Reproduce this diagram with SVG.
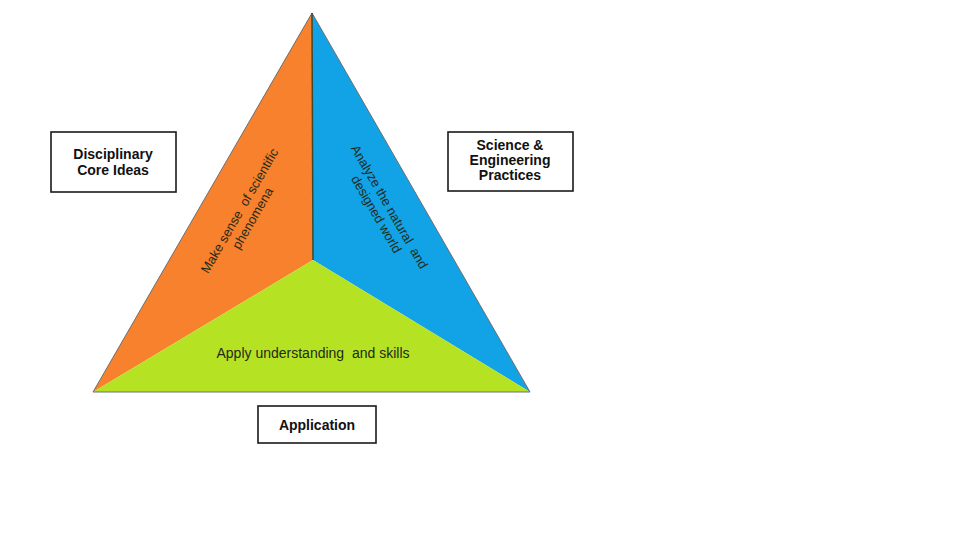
<svg xmlns="http://www.w3.org/2000/svg" width="960" height="540" viewBox="0 0 960 540">
<style>
.box{fill:#fff;stroke:#1a1a1a;stroke-width:1.6}
.lbl{font-family:"Liberation Sans",Arial,sans-serif;font-weight:bold;font-size:14px;fill:#111;text-anchor:middle}
.in{font-family:"Liberation Sans",Arial,sans-serif;font-size:13px;fill:#1f2a1a;text-anchor:middle;white-space:pre}
.edge{fill:none;stroke:#6e6e6e;stroke-width:1}
</style>
<rect width="960" height="540" fill="#fff"/>
<g id="triangle">
<polygon id="orange" points="312,13 93,392 313,260" fill="#F7812C"/>
<polygon id="blue" points="312,13 313,260 530,392" fill="#12A3E6"/>
<polygon id="green" points="93,392 313,260 530,392" fill="#B6E224"/>
<polygon class="edge" points="312,13 93,392 530,392"/>
<line x1="312" y1="13" x2="313" y2="260" stroke="#3c4a30" stroke-width="1.5"/>
</g>
<g id="labels-in">
<text class="in" transform="translate(240,211) rotate(-60)"><tspan x="0" y="4">Make sense  of scientific</tspan><tspan x="0" y="19">phenomena</tspan></text>
<text class="in" transform="translate(389,207) rotate(60)"><tspan x="0" y="4">Analyze the natural  and</tspan><tspan x="0" y="19">designed world</tspan></text>
<text class="in" x="313" y="358" style="font-size:14px">Apply understanding  and skills</text>
</g>
<g id="dci">
<rect class="box" x="51" y="132" width="125" height="60"/>
<text class="lbl" x="113" y="159">Disciplinary</text>
<text class="lbl" x="113" y="175">Core Ideas</text>
</g>
<g id="sep">
<rect class="box" x="448" y="132" width="125" height="59"/>
<text class="lbl" x="510" y="150">Science &amp;</text>
<text class="lbl" x="510" y="165">Engineering</text>
<text class="lbl" x="510" y="180">Practices</text>
</g>
<g id="app">
<rect class="box" x="258" y="406" width="118" height="37"/>
<text class="lbl" x="317" y="430">Application</text>
</g>
<g id="connectors"/>
</svg>
